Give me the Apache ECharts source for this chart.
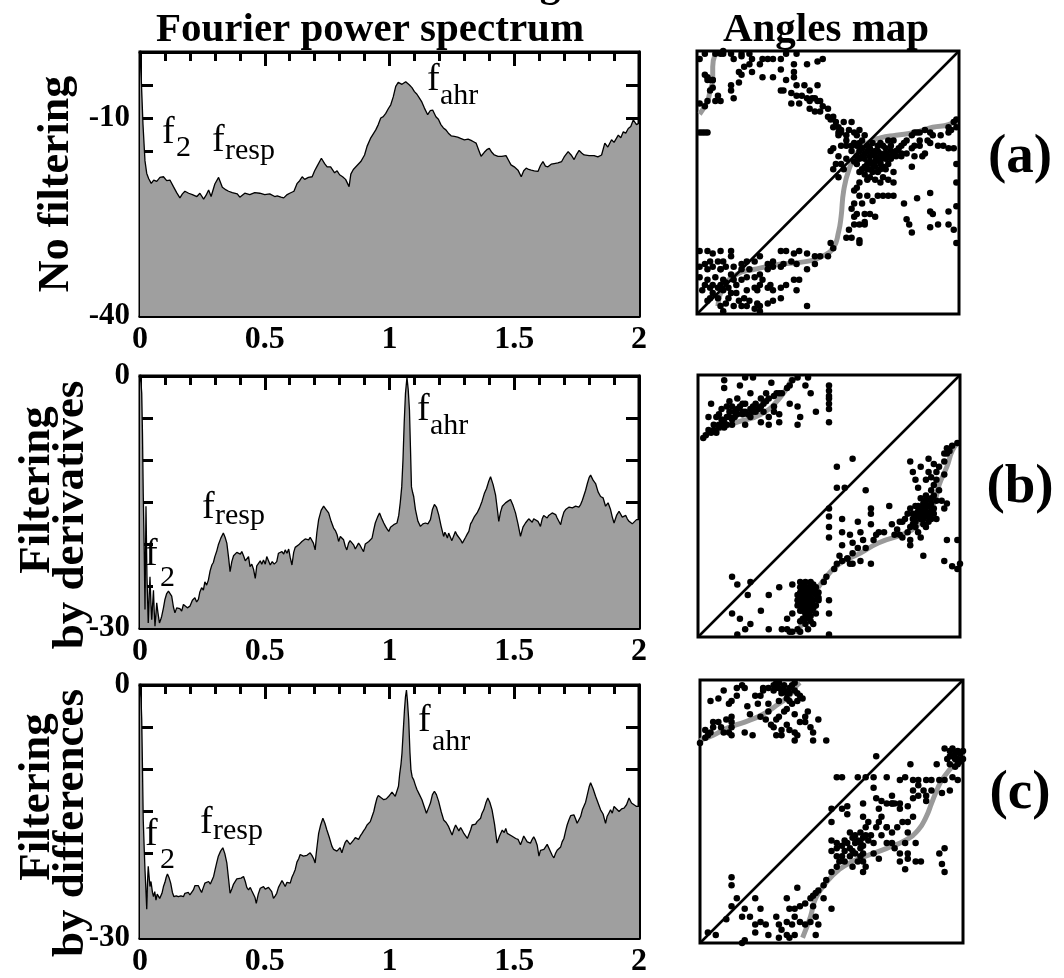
<!DOCTYPE html>
<html><head><meta charset="utf-8">
<script src="https://cdn.jsdelivr.net/npm/echarts@6/dist/echarts.min.js"></script>
<style>html,body{margin:0;padding:0;background:#fff}#c{width:1064px;height:978px}</style>
</head><body><div id="c"></div>
<script>
// ---------------- DATA ----------------
const rowLabels = ['No filtering', ['Filtering', 'by derivatives'], ['Filtering', 'by differences']];
const panelLetters = ['(a)', '(b)', '(c)'];
const colTitles = ['Fourier power spectrum', 'Angles map'];
const freqRange = [0, 2];
const powerRanges = [[-40, 0], [-30, 0], [-30, 0]];
const powerLabels = [[-40, -10], [-30, 0], [-30, 0]];

// Spectrum (a) No filtering: [frequency, power dB]
const specA = [[0,-0.3],[0.005,-4],[0.012,-11],[0.02,-16.5],[0.027,-18.4],[0.035,-19.2],[0.045,-19.9],[0.055,-19.4],[0.067,-19.6],[0.08,-19.0],[0.094,-18.9],[0.107,-19.5],[0.12,-19.4],[0.134,-20.4],[0.147,-21.3],[0.16,-22.1],[0.17,-21.5],[0.18,-21.1],[0.195,-21.4],[0.21,-21.6],[0.228,-21.9],[0.24,-21.4],[0.255,-22.3],[0.265,-21.7],[0.275,-20.9],[0.285,-21.9],[0.3,-20.0],[0.315,-19.0],[0.33,-20.5],[0.345,-20.9],[0.355,-21.1],[0.37,-21.3],[0.39,-21.5],[0.40,-22.0],[0.42,-21.4],[0.44,-21.6],[0.46,-21.3],[0.48,-21.4],[0.50,-21.6],[0.52,-21.5],[0.54,-21.9],[0.55,-21.8],[0.565,-22.0],[0.576,-22.1],[0.59,-21.6],[0.6,-21.4],[0.617,-21.1],[0.63,-19.9],[0.64,-19.5],[0.65,-18.9],[0.66,-19.3],[0.675,-19.0],[0.69,-18.9],[0.70,-18.0],[0.71,-17.3],[0.727,-16.1],[0.74,-16.9],[0.75,-17.4],[0.764,-17.4],[0.78,-18.3],[0.79,-18.0],[0.80,-18.6],[0.812,-18.9],[0.824,-19.3],[0.838,-20.4],[0.845,-18.5],[0.855,-17.8],[0.87,-17.2],[0.885,-16.6],[0.9,-15.6],[0.91,-14.3],[0.925,-13.0],[0.935,-12.4],[0.945,-11.8],[0.955,-11.0],[0.965,-10.0],[0.975,-9.8],[0.985,-9.3],[0.995,-8.6],[1.005,-8.0],[1.015,-6.8],[1.025,-5.2],[1.035,-4.6],[1.04,-4.3],[1.05,-4.9],[1.058,-4.6],[1.065,-4.5],[1.072,-4.8],[1.08,-5.0],[1.09,-5.4],[1.1,-6.0],[1.11,-6.4],[1.12,-7.0],[1.13,-7.6],[1.14,-8.5],[1.153,-9.5],[1.163,-8.9],[1.173,-8.8],[1.186,-9.8],[1.196,-10.2],[1.206,-11.0],[1.216,-11.5],[1.226,-11.8],[1.236,-12.3],[1.247,-12.7],[1.26,-12.8],[1.273,-12.9],[1.285,-13.1],[1.3,-13.3],[1.315,-13.2],[1.327,-13.4],[1.337,-13.6],[1.347,-13.8],[1.357,-14.8],[1.367,-15.8],[1.38,-15.2],[1.39,-14.8],[1.4,-14.6],[1.41,-15.2],[1.42,-15.6],[1.435,-15.8],[1.45,-15.8],[1.467,-15.7],[1.477,-16.4],[1.487,-17.1],[1.5,-17.4],[1.515,-17.9],[1.528,-18.9],[1.538,-18.0],[1.548,-17.6],[1.558,-17.8],[1.568,-17.9],[1.58,-18.0],[1.595,-18.1],[1.605,-17.2],[1.615,-16.6],[1.625,-17.3],[1.635,-17.4],[1.648,-17.0],[1.66,-16.9],[1.675,-16.8],[1.69,-16.6],[1.7,-15.9],[1.716,-15.1],[1.728,-15.6],[1.74,-16.3],[1.75,-15.5],[1.76,-14.9],[1.77,-15.3],[1.78,-15.6],[1.8,-15.7],[1.82,-15.7],[1.835,-15.9],[1.85,-15.6],[1.863,-13.8],[1.875,-14.4],[1.89,-13.3],[1.9,-13.7],[1.917,-12.6],[1.927,-13.0],[1.937,-12.1],[1.947,-12.3],[1.957,-11.6],[1.967,-11.3],[1.977,-10.3],[1.99,-11.0],[2.0,-10.8]];

// Spectrum (b) Filtering by derivatives
const specB = [[0,-0.1],[0.004,-0.8],[0.007,-2.1],[0.01,-7],[0.013,-14],[0.017,-21],[0.02,-27.8],[0.024,-15.5],[0.028,-24],[0.033,-29.4],[0.037,-26],[0.04,-23.9],[0.044,-27.2],[0.047,-29.0],[0.05,-27.5],[0.054,-25.5],[0.057,-28],[0.06,-29.8],[0.064,-28.3],[0.067,-27.0],[0.072,-28.2],[0.078,-29.4],[0.083,-29.0],[0.087,-28.6],[0.094,-27.6],[0.1,-26.6],[0.107,-25.9],[0.114,-25.6],[0.12,-25.8],[0.127,-26.2],[0.134,-27.5],[0.14,-28.2],[0.147,-27.6],[0.154,-27.4],[0.16,-27.7],[0.167,-28.0],[0.174,-27.2],[0.18,-27.0],[0.19,-27.6],[0.2,-27.4],[0.21,-26.7],[0.22,-26.4],[0.227,-26.9],[0.234,-26.6],[0.24,-25.7],[0.247,-25.2],[0.254,-25.5],[0.26,-24.5],[0.267,-24.9],[0.274,-24.3],[0.281,-23.2],[0.288,-22.5],[0.294,-22.2],[0.3,-21.5],[0.307,-20.9],[0.314,-20.1],[0.324,-19.3],[0.334,-18.7],[0.341,-19.2],[0.348,-19.9],[0.355,-21.6],[0.361,-23.3],[0.368,-22.1],[0.375,-21.4],[0.381,-21.5],[0.388,-21.0],[0.395,-20.8],[0.402,-21.2],[0.408,-20.9],[0.415,-21.4],[0.422,-22.0],[0.428,-21.9],[0.435,-21.5],[0.441,-22.7],[0.448,-22.4],[0.455,-23.0],[0.462,-24.1],[0.468,-22.6],[0.475,-22.3],[0.482,-22.0],[0.488,-22.4],[0.495,-21.9],[0.502,-22.4],[0.508,-21.5],[0.515,-22.0],[0.522,-22.5],[0.53,-22.1],[0.538,-22.4],[0.548,-22.1],[0.555,-21.1],[0.562,-21.3],[0.569,-20.9],[0.576,-21.2],[0.582,-20.7],[0.589,-21.1],[0.596,-20.6],[0.602,-21.6],[0.609,-22.5],[0.616,-21.0],[0.622,-20.4],[0.629,-20.3],[0.636,-20.1],[0.642,-20.2],[0.649,-19.7],[0.656,-19.6],[0.662,-19.4],[0.669,-19.3],[0.676,-19.5],[0.682,-19.2],[0.689,-19.3],[0.695,-19.9],[0.702,-20.7],[0.709,-18.6],[0.716,-17.1],[0.726,-16.0],[0.736,-15.5],[0.746,-15.9],[0.756,-16.3],[0.766,-17.3],[0.776,-18.1],[0.783,-18.4],[0.79,-18.9],[0.796,-19.7],[0.803,-19.1],[0.81,-19.0],[0.816,-19.5],[0.823,-20.3],[0.829,-20.7],[0.836,-19.9],[0.842,-19.6],[0.849,-19.5],[0.856,-20.1],[0.863,-20.6],[0.87,-20.5],[0.876,-19.9],[0.883,-20.2],[0.89,-20.6],[0.896,-20.9],[0.903,-20.0],[0.91,-19.9],[0.917,-19.7],[0.923,-19.6],[0.93,-19.3],[0.937,-18.3],[0.943,-17.5],[0.952,-16.8],[0.96,-16.3],[0.968,-16.9],[0.977,-17.5],[0.984,-17.9],[0.99,-18.2],[0.997,-18.5],[1.004,-18.0],[1.01,-17.8],[1.017,-17.7],[1.023,-17.8],[1.03,-17.5],[1.037,-16.6],[1.043,-15.1],[1.049,-13.2],[1.054,-10.0],[1.059,-5.5],[1.064,-2.06],[1.07,-0.16],[1.075,-1.6],[1.08,-4.04],[1.084,-8.5],[1.088,-13.2],[1.093,-13.9],[1.097,-14.35],[1.104,-15.9],[1.114,-17.3],[1.124,-17.9],[1.134,-17.6],[1.144,-17.5],[1.154,-17.6],[1.164,-17.1],[1.172,-15.9],[1.18,-15.3],[1.188,-15.6],[1.197,-16.5],[1.207,-17.9],[1.217,-19.1],[1.222,-18.6],[1.227,-18.9],[1.232,-19.3],[1.237,-18.7],[1.244,-18.8],[1.25,-19.6],[1.258,-19.5],[1.264,-18.5],[1.27,-18.9],[1.278,-18.7],[1.285,-19.5],[1.292,-19.9],[1.298,-20.1],[1.305,-19.2],[1.312,-18.8],[1.318,-18.5],[1.325,-17.6],[1.331,-17.3],[1.341,-16.7],[1.351,-16.3],[1.361,-15.7],[1.371,-14.9],[1.38,-14.0],[1.389,-13.4],[1.397,-12.6],[1.405,-12.0],[1.415,-12.9],[1.425,-14.15],[1.432,-15.8],[1.438,-17.3],[1.445,-16.2],[1.452,-15.5],[1.458,-15.3],[1.465,-15.1],[1.475,-14.9],[1.485,-14.7],[1.495,-15.4],[1.505,-16.3],[1.515,-17.6],[1.525,-19.1],[1.535,-18.0],[1.545,-17.5],[1.552,-17.6],[1.558,-17.0],[1.565,-16.9],[1.572,-17.4],[1.578,-17.0],[1.585,-17.1],[1.595,-17.3],[1.605,-17.9],[1.612,-17.0],[1.618,-16.6],[1.625,-16.5],[1.632,-16.9],[1.638,-16.6],[1.645,-16.7],[1.652,-16.3],[1.659,-16.4],[1.666,-16.5],[1.672,-16.9],[1.679,-17.1],[1.686,-17.7],[1.692,-16.9],[1.699,-16.2],[1.706,-15.9],[1.713,-15.9],[1.72,-15.6],[1.726,-15.5],[1.733,-15.7],[1.74,-15.8],[1.746,-15.5],[1.753,-15.4],[1.759,-15.6],[1.766,-15.3],[1.773,-14.8],[1.779,-14.7],[1.786,-13.6],[1.793,-12.8],[1.8,-12.1],[1.806,-11.8],[1.816,-12.4],[1.826,-12.8],[1.836,-13.8],[1.846,-14.35],[1.856,-14.5],[1.866,-15.5],[1.876,-15.1],[1.886,-15.9],[1.893,-16.8],[1.9,-17.5],[1.91,-16.6],[1.92,-16.1],[1.927,-16.3],[1.933,-16.8],[1.94,-16.9],[1.947,-16.6],[1.953,-17.0],[1.96,-17.3],[1.967,-17.4],[1.973,-17.6],[1.98,-17.5],[1.99,-17.1],[2.0,-17.1]];

// Spectrum (c) Filtering by differences
const specC = [[0,-0.2],[0.004,-1.5],[0.007,-4.15],[0.01,-10],[0.013,-16.0],[0.017,-19.5],[0.02,-21.9],[0.024,-24.5],[0.027,-26.6],[0.03,-23.5],[0.033,-21.5],[0.037,-22.9],[0.04,-23.9],[0.044,-23.3],[0.047,-23.5],[0.05,-24.6],[0.054,-25.1],[0.059,-24.5],[0.064,-25.5],[0.069,-24.8],[0.074,-24.9],[0.079,-25.3],[0.083,-25.5],[0.088,-24.7],[0.094,-23.9],[0.1,-23.4],[0.105,-22.8],[0.11,-22.4],[0.117,-22.9],[0.123,-23.5],[0.13,-24.6],[0.136,-25.1],[0.145,-25.0],[0.154,-25.1],[0.164,-25.0],[0.174,-25.1],[0.18,-24.7],[0.187,-24.5],[0.194,-24.6],[0.2,-24.9],[0.207,-24.7],[0.214,-24.3],[0.22,-23.8],[0.227,-24.0],[0.234,-23.8],[0.24,-24.2],[0.247,-24.6],[0.254,-24.0],[0.26,-23.5],[0.268,-23.5],[0.275,-23.3],[0.282,-23.6],[0.288,-23.5],[0.295,-22.7],[0.301,-21.9],[0.308,-21.0],[0.314,-20.3],[0.323,-19.7],[0.332,-19.3],[0.34,-20.0],[0.348,-21.1],[0.355,-23.0],[0.361,-24.7],[0.368,-24.2],[0.375,-23.6],[0.381,-23.5],[0.388,-23.0],[0.395,-23.2],[0.405,-22.9],[0.415,-22.7],[0.422,-23.3],[0.428,-24.0],[0.435,-24.3],[0.442,-24.0],[0.448,-24.4],[0.455,-24.5],[0.461,-25.2],[0.466,-25.9],[0.474,-24.8],[0.482,-24.1],[0.488,-24.3],[0.495,-23.9],[0.502,-24.2],[0.508,-24.3],[0.515,-24.0],[0.522,-23.9],[0.528,-24.5],[0.535,-25.3],[0.542,-25.0],[0.548,-24.7],[0.555,-24.0],[0.562,-23.6],[0.569,-23.2],[0.575,-23.5],[0.582,-23.9],[0.589,-23.4],[0.595,-23.2],[0.602,-23.5],[0.609,-22.8],[0.615,-22.4],[0.622,-21.9],[0.629,-21.0],[0.636,-20.6],[0.642,-20.1],[0.649,-20.0],[0.655,-20.3],[0.662,-20.5],[0.669,-20.2],[0.675,-20.3],[0.682,-19.9],[0.689,-20.2],[0.696,-20.6],[0.702,-21.1],[0.709,-19.3],[0.716,-17.6],[0.724,-16.6],[0.733,-15.8],[0.741,-16.4],[0.749,-17.2],[0.758,-18.0],[0.769,-19.1],[0.776,-19.5],[0.782,-19.3],[0.789,-19.7],[0.796,-19.5],[0.802,-19.3],[0.809,-19.9],[0.816,-19.2],[0.822,-18.7],[0.829,-18.4],[0.836,-18.6],[0.842,-18.9],[0.849,-18.75],[0.856,-18.4],[0.863,-18.1],[0.87,-18.0],[0.876,-18.3],[0.883,-17.9],[0.89,-17.6],[0.896,-17.3],[0.903,-17.0],[0.91,-16.6],[0.917,-16.7],[0.923,-16.2],[0.93,-15.6],[0.937,-15.0],[0.943,-14.2],[0.95,-13.4],[0.955,-13.1],[0.96,-12.9],[0.968,-13.4],[0.977,-13.6],[0.987,-13.5],[0.997,-13.2],[1.004,-13.0],[1.01,-12.7],[1.017,-12.8],[1.023,-13.2],[1.03,-13.0],[1.036,-12.0],[1.041,-10.5],[1.046,-9.4],[1.05,-8.1],[1.055,-5.5],[1.06,-2.96],[1.064,-1.4],[1.068,-0.6],[1.072,-1.9],[1.077,-4.15],[1.082,-8.0],[1.086,-10.1],[1.091,-10.9],[1.097,-11.25],[1.104,-11.9],[1.11,-12.4],[1.12,-13.0],[1.13,-13.6],[1.139,-14.4],[1.148,-15.2],[1.156,-14.6],[1.164,-14.0],[1.172,-13.0],[1.18,-12.6],[1.188,-13.0],[1.197,-13.8],[1.207,-15.0],[1.217,-16.0],[1.227,-16.3],[1.237,-16.8],[1.244,-17.3],[1.251,-17.8],[1.258,-17.1],[1.265,-16.6],[1.271,-16.6],[1.278,-17.3],[1.285,-16.9],[1.291,-17.2],[1.298,-17.6],[1.305,-17.8],[1.312,-18.2],[1.318,-18.0],[1.325,-17.2],[1.331,-16.6],[1.338,-16.4],[1.345,-16.5],[1.351,-16.2],[1.358,-16.2],[1.365,-15.8],[1.371,-15.2],[1.378,-14.8],[1.386,-14.0],[1.394,-13.4],[1.402,-13.9],[1.411,-14.8],[1.421,-16.5],[1.431,-18.75],[1.441,-17.9],[1.452,-17.2],[1.46,-17.5],[1.466,-17.0],[1.472,-17.6],[1.48,-17.7],[1.49,-17.9],[1.498,-18.0],[1.506,-18.2],[1.515,-18.3],[1.525,-18.95],[1.532,-18.4],[1.538,-17.9],[1.545,-18.0],[1.552,-18.6],[1.558,-18.5],[1.565,-18.75],[1.572,-18.3],[1.578,-18.0],[1.585,-18.4],[1.592,-19.0],[1.599,-20.3],[1.605,-19.6],[1.612,-19.8],[1.619,-19.5],[1.625,-19.3],[1.632,-18.9],[1.639,-18.95],[1.646,-19.8],[1.652,-20.2],[1.659,-20.5],[1.665,-20.0],[1.672,-19.6],[1.679,-19.5],[1.686,-19.2],[1.692,-18.6],[1.699,-18.2],[1.706,-17.3],[1.712,-16.6],[1.719,-16.0],[1.726,-15.5],[1.732,-15.7],[1.739,-15.4],[1.746,-15.9],[1.752,-16.4],[1.759,-16.2],[1.766,-15.6],[1.773,-14.8],[1.779,-14.8],[1.786,-13.9],[1.793,-13.0],[1.8,-12.1],[1.806,-11.6],[1.816,-12.3],[1.826,-13.2],[1.836,-14.0],[1.846,-14.8],[1.856,-15.3],[1.866,-16.4],[1.872,-15.6],[1.879,-15.2],[1.886,-14.8],[1.893,-15.2],[1.9,-14.4],[1.91,-14.7],[1.92,-15.0],[1.93,-14.7],[1.94,-14.6],[1.95,-14.2],[1.96,-13.4],[1.97,-14.0],[1.98,-14.2],[1.99,-14.4],[2.0,-14.4]];

// Angles maps, coordinates in % of the angle range [0..100]
const diag = [[0,0],[100,100]];
const fitA = [[8,3],[10,10],[15,15],[22,17],[32,19],[42,20],[48,22],[52,25],[54,31],[55,37],[56,47],[58,55],[61,61],[65,65],[70,67],[76,68],[83,69],[90,71],[96,72],[99,74]];
const fitAWrap = [[1,76],[4,81],[5,85],[6,89],[6,94],[7,99]];
const dotsA = [[1,97],[3,99],[7,99],[10,99],[13,99],[17,99],[20,99],[21,97],[20,95],[24,95],[25,97],[27,97],[29,97],[32,97],[34,99],[38,99],[42,95],[46,96],[48,97],[37,95],[9,99],[10,100],[14,97],[17,98],[18,94],[16,92],[17,91],[21,92],[25,90],[29,90],[32,93],[37,92],[37,90],[34,89],[38,87],[41,87],[43,85],[46,87],[45,82],[44,82],[40,83],[38,83],[36,84],[32,85],[33,85],[36,80],[39,80],[42,82],[43,81],[46,81],[47,81],[48,79],[45,77],[43,78],[47,77],[50,78],[50,75],[51,74],[52,75],[53,73],[54,71],[55,70],[55,69],[57,68],[57,66],[54,69],[54,68],[52,71],[56,73],[59,73],[58,70],[60,69],[61,68],[62,70],[63,66],[64,68],[60,65],[59,64],[57,64],[55,64],[52,63],[51,62],[54,60],[53,57],[55,57],[57,59],[56,55],[54,52],[52,55],
[3,91],[4,90],[4,89],[5,89],[6,89],[6,86],[13,87],[13,85],[14,82],[9,81],[7,81],[4,81],[3,79],[1,80],[2,69],[3,69],[4,69],[6,89],[16,88],[1,69],[8,83],[5,85],
[61,64],[62,62],[64,61],[65,64],[67,65],[68,62],[69,64],[70,65],[71,64],[73,66],[74,64],[75,66],[70,61],[69,59],[68,58],[66,60],[65,57],[64,56],[62,59],[61,57],[63,55],[65,55],[67,54],[69,54],[70,55],[71,56],[73,57],[74,59],[75,61],[76,62],[78,64],[79,65],[80,66],[82,68],[83,69],[84,69],[85,69],[87,70],[89,69],[90,68],[93,68],[96,69],[97,70],[99,71],[99,74],[98,73],[96,71],[85,66],[88,66],[89,65],[92,64],[94,64],[96,63],[98,63],[83,64],[82,63],[85,64],[78,61],[80,61],[83,60],[86,60],[87,61],[71,52],[73,51],[75,54],[75,50],[70,50],[68,51],[65,51],[62,50],[61,48],[60,47],[62,45],[65,45],[67,43],[69,45],[71,45],[73,45],[75,45],[63,42],[60,42],[59,40],[61,38],[64,38],[66,38],[68,37],[64,35],[62,34],[60,34],[58,32],[57,29],[59,29],[62,28],[62,27],[64,34],[60,37],[79,42],[84,44],[89,46],[89,39],[90,38],[80,36],[81,34],[82,31],[89,33],[92,34],[96,34],[96,39],[99,41],[98,32],[99,27],[99,57],[99,50],[82,56],[78,60],[63,60],[66,63],[68,60],[72,59],[64,59],[67,57],[70,58],[72,61],[62,54],[66,52],
[63,63],[65,62],[67,61],[69,62],[71,60],[73,60],[66,58],[68,56],[70,57],[72,55],[64,53],[66,55],[60,58],[61,60],[59,62],[62,65],[74,62],[76,60],[77,63],[72,63],
[1,24],[4,24],[6,23],[9,24],[13,24],[13,22],[10,20],[8,20],[5,20],[3,19],[1,18],[4,17],[6,18],[9,17],[11,18],[14,18],[17,19],[19,20],[22,20],[24,22],[27,19],[29,20],[32,24],[34,24],[37,23],[39,24],[42,23],[45,22],[47,22],[50,22],[52,25],[51,27],[36,20],[33,19],[32,18],[29,18],[27,17],[24,15],[22,14],[19,14],[17,13],[14,13],[11,12],[9,11],[6,11],[4,13],[1,14],[3,11],[5,10],[8,10],[10,9],[13,8],[15,8],[18,6],[20,5],[23,4],[19,9],[22,10],[24,11],[27,10],[29,9],[32,10],[34,11],[37,13],[39,13],[42,17],[45,19],[32,6],[29,5],[27,4],[24,3],[22,2],[19,3],[17,3],[14,3],[11,4],[10,1],[9,3],[8,6],[6,8],[5,6],[4,5],[2,9],[38,9],[42,3],[9,17],[25,13],[28,11],[17,17],[20,17],[13,15],[24,1],[38,19],[23,9],[12,10],[15,11],[10,13],[7,14],[12,6],[16,5]];

const fitB = [[38,1],[41,9],[44,16],[49,23],[54,28],[62,32],[69,36],[80,40],[85,44],[90,51],[92,58],[95,65],[97,71],[99,74]];
const fitBWrap = [[2,77],[7,79],[15,82],[24,85],[31,91],[36,99]];
const dotsB = [[2,76],[3,77],[4,79],[6,79],[7,78],[8,80],[6,81],[8,81],[10,82],[11,84],[12,84],[13,83],[14,86],[15,87],[17,86],[17,85],[18,86],[20,87],[21,88],[22,86],[24,88],[25,89],[26,90],[27,91],[29,92],[30,93],[31,93],[32,93],[34,95],[35,96],[36,98],[38,99],[10,98],[18,99],[21,99],[28,97],[16,96],[10,95],[5,89],[11,88],[12,90],[15,91],[20,93],[18,89],[24,91],[26,93],[29,88],[31,85],[35,89],[38,88],[39,84],[42,99],[43,93],[41,96],[45,86],[50,96],[50,94],[50,92],[50,91],[50,89],[50,87],[50,82],[38,81],[31,82],[27,81],[4,84],[7,84],[9,87],[13,88],[17,89],[22,89],[27,84],[24,82],[18,81],[13,81],[10,80],[20,84],[25,86],[29,86],[8,85],[12,86],[14,84],[16,88],[19,85],[21,86],[23,87],[9,83],[11,81],[5,78],[15,85],
[59,68],[53,65],[53,57],[56,57],[64,56],[50,49],[50,46],[50,42],[55,45],[50,38],[55,40],[58,39],[61,44],[62,40],[66,49],[66,47],[66,43],[68,39],[69,40],[71,40],[73,50],[74,43],[75,39],[76,41],[78,44],[80,47],[81,49],[82,45],[83,47],[85,49],[86,51],[87,52],[89,53],[90,54],[85,53],[84,57],[83,60],[82,63],[81,67],[85,65],[88,68],[88,63],[90,66],[91,63],[92,65],[94,62],[94,67],[95,70],[96,71],[97,73],[99,74],[95,72],[94,70],[90,58],[89,61],[87,60],[87,54],[92,56],[93,52],[94,49],[95,51],[91,45],[89,45],[87,42],[86,43],[82,43],[81,42],[80,40],[78,38],[77,39],[81,37],[85,38],[90,49],[88,46],[77,44],[79,45],[83,42],[84,40],[81,35],[86,31],[95,37],[99,37],[94,29],[97,27],[99,26],[100,28],[63,37],[61,34],[59,32],[57,30],[55,29],[53,28],[52,26],[54,31],[59,36],[55,35],[58,28],[59,28],[62,29],[66,28],[57,30],[64,34],[67,37],[84,46],[86,47],[85,45],[83,44],[87,48],[86,49],[88,50],[84,48],[82,47],[88,44],[89,48],[83,50],[91,52],[89,56],[91,60],
[84,50],[86,50],[87,46],[88,47],[85,47],[86,45],[83,46],[87,50],[89,51],[90,47],
[39,19],[40,20],[41,21],[43,21],[44,20],[45,19],[46,17],[48,21],[49,23],[41,17],[40,16],[39,14],[38,12],[39,10],[41,12],[42,14],[43,15],[45,16],[46,14],[44,11],[43,10],[41,9],[40,7],[39,6],[38,3],[41,5],[43,6],[44,5],[42,3],[39,2],[36,9],[34,7],[35,2],[34,3],[32,3],[36,2],[38,16],[39,21],[46,15],[45,9],[43,17],[41,15],[39,16],[50,14],[50,9],[50,1],[13,23],[15,20],[20,21],[19,16],[24,10],[27,16],[31,19],[36,20],[13,9],[16,7],[18,3],[20,5],[27,3],[15,1],[42,16],[40,14],[41,16],[43,12],[39,17],[44,14],[41,11],[43,20],[42,18],[40,12],[42,10],[44,17],[40,18],[38,14],[42,8],[40,10],
[41,13],[43,13],[42,19],[44,18],[40,19],[45,12],[39,12],[43,8],[41,7],[42,12]];

const fitC = [[39,2],[42,10],[44,17],[48,23],[53,28],[58,31],[63,33],[71,36],[78,39],[83,43],[86,48],[88,53],[90,58],[92,62],[95,66],[97,68],[100,72]];
const fitCWrap = [[0,77],[5,79],[11,82],[17,84],[24,87],[30,91],[34,94],[36,97],[38,99]];
const dotsC = [[0,76],[2,78],[3,79],[4,80],[5,82],[2,81],[5,84],[7,84],[8,82],[9,80],[11,80],[12,79],[12,82],[12,84],[12,86],[11,91],[12,92],[14,94],[14,97],[17,97],[21,94],[23,94],[24,96],[26,97],[28,98],[29,99],[30,97],[31,96],[33,95],[34,97],[35,98],[36,96],[38,94],[39,93],[37,92],[35,91],[33,89],[32,88],[30,86],[29,85],[27,83],[28,82],[29,79],[31,81],[33,83],[34,81],[36,80],[37,79],[38,84],[40,86],[41,88],[40,84],[42,82],[43,80],[43,77],[45,85],[48,77],[36,77],[31,79],[25,85],[23,86],[19,87],[18,90],[22,91],[20,79],[17,80],[10,85],[7,93],[4,92],[9,96],[16,98],[26,91],[24,97],[34,92],[30,92],[36,87],[26,88],[29,97],[31,95],[32,98],[33,93],[30,99],[32,96],[34,95],[28,96],[36,99],[37,95],
[67,71],[80,68],[90,68],[93,74],[95,73],[97,72],[98,70],[100,73],[99,69],[97,67],[95,68],[94,70],[96,63],[98,62],[93,62],[91,62],[88,62],[86,62],[83,62],[81,62],[78,63],[76,62],[52,63],[54,63],[60,63],[63,63],[66,63],[71,63],[66,59],[50,51],[54,51],[56,52],[56,49],[50,46],[62,53],[62,48],[67,55],[68,51],[69,54],[71,53],[73,53],[74,53],[76,53],[76,51],[73,56],[79,52],[81,55],[83,56],[85,58],[86,56],[88,58],[92,57],[95,58],[81,48],[79,46],[77,46],[75,44],[73,42],[71,44],[68,46],[67,44],[64,46],[63,41],[61,38],[59,41],[57,42],[55,39],[54,37],[52,38],[50,39],[50,35],[52,33],[53,31],[55,31],[57,33],[59,34],[61,36],[62,34],[62,31],[63,29],[62,27],[58,29],[54,33],[69,41],[71,38],[73,38],[74,36],[76,34],[78,38],[79,42],[82,38],[76,31],[78,28],[79,32],[82,31],[84,31],[79,34],[66,34],[68,32],[66,38],[93,36],[91,34],[92,30],[93,27],[52,29],[50,27],[48,24],[47,22],[45,20],[44,19],[43,18],[42,17],[40,15],[43,14],[44,10],[45,7],[50,13],[47,17],[42,8],[44,3],[40,7],[61,33],[62,37],[60,31],[58,35],[55,35],[52,36],[73,53],[69,48],[71,44],[83,60],[81,58],[86,54],[96,71],[97,70],[98,73],[99,72],[96,74],[98,68],[100,70],[95,71],
[56,38],[58,40],[60,39],[62,40],[64,39],[57,36],[59,38],[61,42],[63,44],[65,41],
[12,25],[12,22],[14,17],[12,14],[21,17],[17,13],[16,10],[19,10],[23,13],[23,8],[21,7],[25,7],[29,10],[30,7],[31,5],[33,17],[34,13],[36,13],[37,21],[38,14],[36,10],[33,3],[30,2],[34,2],[36,3],[10,9],[6,3],[3,4],[26,3],[17,1],[16,0],[21,4],[33,8],[35,7],[38,8]];

// ---------------- CHART ----------------
const SERIF = '"Liberation Serif","Times New Roman",serif';
const chart = echarts.init(document.getElementById('c'), null, {renderer: 'canvas'});

const specGrids = [
  {left: 140, top: 52, width: 499, height: 264},
  {left: 140, top: 376, width: 499, height: 252},
  {left: 140, top: 685, width: 499, height: 253}
];
const mapGrids = [
  {left: 697, top: 51, width: 262, height: 263},
  {left: 698, top: 375, width: 262, height: 262},
  {left: 700, top: 680, width: 263, height: 263}
];
const grid = [];
specGrids.concat(mapGrids).forEach(g => grid.push(Object.assign({show: true, borderColor: '#000', borderWidth: 3, backgroundColor: 'transparent'}, g)));

const xAxis = [], yAxis = [], series = [];
const tickStyle = {color: '#000', width: 3};
const specs = [specA, specB, specC];
specs.forEach((data, i) => {
  ['bottom', 'top'].forEach(pos => {
    xAxis.push({
      gridIndex: i, type: 'value', position: pos, min: freqRange[0], max: freqRange[1], interval: 0.5,
      axisLine: {show: true, onZero: false, lineStyle: {color: '#000', width: 3}},
      axisTick: {show: true, inside: true, length: 14, lineStyle: tickStyle},
      minorTick: {show: true, splitNumber: 5, length: 9, lineStyle: tickStyle},
      splitLine: {show: false}, minorSplitLine: {show: false},
      axisLabel: pos === 'bottom' ? {show: true, margin: 8, color: '#000', fontFamily: SERIF, fontWeight: 'bold', fontSize: 32, formatter: v => String(v)} : {show: false}
    });
  });
  const lbl = powerLabels[i];
  ['left', 'right'].forEach(pos => {
    yAxis.push({
      gridIndex: i, type: 'value', position: pos, min: powerRanges[i][0], max: powerRanges[i][1], interval: 10,
      axisLine: {show: true, onZero: false, lineStyle: {color: '#000', width: 3}},
      axisTick: {show: true, inside: true, length: 13, lineStyle: tickStyle},
      minorTick: {show: true, splitNumber: 2, length: 13, lineStyle: tickStyle},
      splitLine: {show: false}, minorSplitLine: {show: false},
      axisLabel: pos === 'left' ? {show: true, margin: 10, color: '#000', fontFamily: SERIF, fontWeight: 'bold', fontSize: 31,
        showMinLabel: true, showMaxLabel: true,
        formatter: v => (lbl.indexOf(v) >= 0 ? String(v) : '')} : {show: false}
    });
  });
  series.push({
    type: 'line', xAxisIndex: 2 * i, yAxisIndex: 2 * i, data: data, showSymbol: false, symbol: 'none', smooth: false,
    lineStyle: {color: '#000', width: 1.3}, areaStyle: {color: '#9f9f9f', opacity: 1, origin: 'start'},
    silent: true, animation: false, z: 1
  });
});

const maps = [[dotsA, fitA, fitAWrap], [dotsB, fitB, fitBWrap], [dotsC, fitC, fitCWrap]];
maps.forEach((m, k) => {
  const gi = 3 + k;
  xAxis.push({gridIndex: gi, type: 'value', min: 0, max: 100, show: false});
  yAxis.push({gridIndex: gi, type: 'value', min: 0, max: 100, show: false});
  const ai = xAxis.length - 1;
  [m[1], m[2]].forEach(fit => series.push({
    type: 'line', xAxisIndex: ai, yAxisIndex: ai, data: fit, showSymbol: false, symbol: 'none', smooth: true,
    lineStyle: {color: '#9a9a9a', width: 5, opacity: 1}, silent: true, animation: false, z: 1
  }));
  series.push({
    type: 'line', xAxisIndex: ai, yAxisIndex: ai, data: diag, showSymbol: false, symbol: 'none',
    lineStyle: {color: '#000', width: 2.5, opacity: 1}, silent: true, animation: false, z: 2
  });
  series.push({
    type: 'scatter', xAxisIndex: ai, yAxisIndex: ai, data: m[0], symbol: 'circle', symbolSize: 6.5,
    itemStyle: {color: '#000', opacity: 1}, silent: true, animation: false, z: 3, clip: true
  });
});

function txt(text, x, y, font, rot, align) {
  return {type: 'text', x: x, y: y, rotation: rot || 0, silent: true, z: 100,
    style: {text: text, font: font, fill: '#000', align: align || 'center', verticalAlign: 'middle',
      textAlign: align || 'center', textVerticalAlign: 'middle'}};
}
const B41 = 'bold 41px ' + SERIF;
const fF = '38px ' + SERIF, fS = '30px ' + SERIF;
const R = Math.PI / 2;
const graphic = [
  txt('g', 550, -15, B41),
  txt(colTitles[0], 370, 30, B41),
  txt(colTitles[1], 826, 30, B41),
  txt(rowLabels[0], 57, 184, 'bold 44px ' + SERIF, R),
  txt(rowLabels[1][0], 37, 490, 'bold 45px ' + SERIF, R),
  txt(rowLabels[1][1], 71, 515, 'bold 45px ' + SERIF, R),
  txt(rowLabels[2][0], 37, 797, 'bold 45px ' + SERIF, R),
  txt(rowLabels[2][1], 71, 823, 'bold 45px ' + SERIF, R),
  txt(panelLetters[0], 1020, 158, 'bold 55px ' + SERIF),
  txt(panelLetters[1], 1020, 488, 'bold 55px ' + SERIF),
  txt(panelLetters[2], 1020, 794, 'bold 55px ' + SERIF),
  // panel (a) annotations
  txt('f', 162, 133, fF, 0, 'left'), txt('2', 176, 148, fS, 0, 'left'),
  txt('f', 212, 141, fF, 0, 'left'), txt('resp', 225, 151, fS, 0, 'left'),
  txt('f', 427, 80, fF, 0, 'left'), txt('ahr', 440, 96, fS, 0, 'left'),
  // panel (b)
  txt('f', 417, 410, fF, 0, 'left'), txt('ahr', 430, 426, fS, 0, 'left'),
  txt('f', 202, 508, fF, 0, 'left'), txt('resp', 215, 516, fS, 0, 'left'),
  txt('f', 145, 555, fF, 0, 'left'), txt('2', 160, 578, fS, 0, 'left'),
  // panel (c)
  txt('f', 418, 721, fF, 0, 'left'), txt('ahr', 432, 742, fS, 0, 'left'),
  txt('f', 200, 823, fF, 0, 'left'), txt('resp', 213, 831, fS, 0, 'left'),
  txt('f', 145, 835, fF, 0, 'left'), txt('2', 160, 860, fS, 0, 'left')
];

chart.setOption({animation: false, backgroundColor: '#fff', grid, xAxis, yAxis, series, graphic});
</script>
</body></html>
